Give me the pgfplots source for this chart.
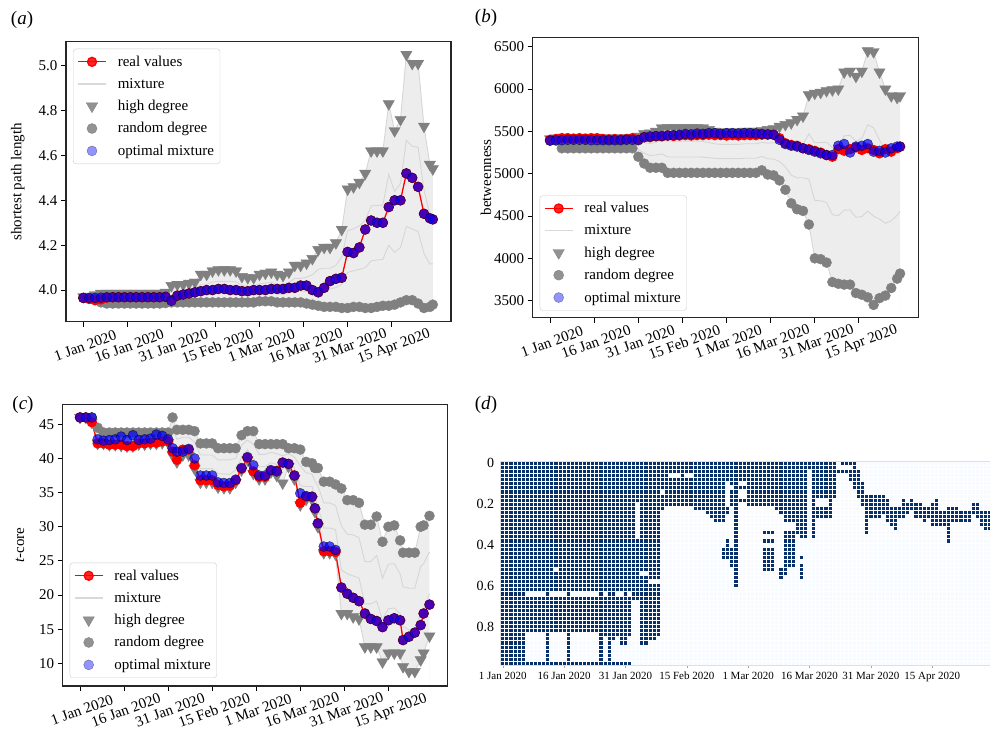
\documentclass[border=0pt]{standalone}
\usepackage{fontspec}
\setmainfont{Liberation Serif}
\usepackage{pgfplots}
\usepackage{pgfplotstable}
\pgfplotsset{compat=1.18}

\definecolor{hmdark}{HTML}{08306B}
\definecolor{hmlight}{HTML}{F7FBFF}
\definecolor{mkgray}{HTML}{808080}
\newcommand\fs{\fontsize{15bp}{18bp}\selectfont}

% (a) shortest path length: day, real, optimal, high degree, random degree, two mixtures
\pgfplotstableread{
d r o h q m1 m2
0 3.965 3.965 3.970 3.965 3.966 3.968
2 3.960 3.965 3.972 3.962 3.965 3.968
4 3.955 3.965 3.978 3.955 3.962 3.970
6 3.958 3.966 3.985 3.945 3.957 3.971
8 3.966 3.968 3.985 3.940 3.954 3.969
10 3.968 3.968 3.985 3.940 3.954 3.969
12 3.968 3.968 3.985 3.940 3.954 3.969
14 3.968 3.968 3.985 3.940 3.954 3.969
16 3.968 3.968 3.985 3.940 3.954 3.969
18 3.968 3.968 3.985 3.940 3.954 3.969
20 3.968 3.968 3.985 3.940 3.954 3.969
22 3.968 3.968 3.985 3.940 3.954 3.969
24 3.968 3.968 3.985 3.940 3.954 3.969
26 3.968 3.968 3.985 3.940 3.954 3.969
28 3.970 3.970 3.990 3.942 3.956 3.972
30 3.955 3.952 4.020 3.945 3.967 3.994
32 3.975 3.975 4.025 3.945 3.969 3.997
34 3.980 3.980 4.025 3.945 3.969 3.997
36 3.985 3.985 4.030 3.945 3.971 4.000
38 3.990 3.990 4.035 3.945 3.972 4.004
40 3.995 3.995 4.070 3.945 3.983 4.026
42 4.000 4.000 4.070 3.945 3.983 4.026
44 4.000 4.000 4.085 3.945 3.987 4.036
46 4.005 4.005 4.090 3.945 3.989 4.039
48 4.005 4.005 4.090 3.945 3.989 4.039
50 4.000 4.000 4.090 3.945 3.989 4.039
52 4.000 4.000 4.085 3.945 3.987 4.036
54 3.995 3.995 4.060 3.945 3.980 4.020
56 3.995 3.995 4.055 3.945 3.978 4.017
58 4.000 4.000 4.055 3.945 3.978 4.017
60 4.000 4.000 4.070 3.950 3.986 4.028
62 4.000 4.000 4.075 3.950 3.988 4.031
64 4.005 4.005 4.080 3.950 3.989 4.035
66 4.005 4.005 4.070 3.945 3.983 4.026
68 4.005 4.005 4.065 3.945 3.981 4.023
70 4.010 4.010 4.080 3.945 3.986 4.033
72 4.010 4.010 4.110 3.945 3.995 4.052
74 4.020 4.020 4.110 3.945 3.995 4.052
76 4.020 4.020 4.120 3.940 3.994 4.057
78 4.000 4.000 4.140 3.935 3.997 4.068
80 3.990 3.990 4.180 3.930 4.005 4.093
82 4.010 4.010 4.190 3.925 4.005 4.097
84 4.040 4.040 4.190 3.925 4.005 4.097
86 4.050 4.050 4.210 3.925 4.011 4.110
88 4.055 4.055 4.270 3.920 4.025 4.148
90 4.170 4.170 4.450 3.920 4.079 4.265
92 4.165 4.165 4.460 3.925 4.086 4.273
94 4.190 4.190 4.480 3.925 4.092 4.286
96 4.270 4.270 4.520 3.920 4.100 4.310
98 4.310 4.310 4.620 3.920 4.130 4.375
100 4.300 4.300 4.620 3.925 4.134 4.377
102 4.300 4.300 4.620 3.930 4.137 4.379
104 4.370 4.370 4.830 3.930 4.200 4.515
106 4.400 4.400 4.710 3.935 4.168 4.439
108 4.400 4.400 4.760 3.945 4.190 4.475
110 4.520 4.520 5.050 3.955 4.284 4.667
112 4.500 4.500 5.010 3.955 4.272 4.641
114 4.460 4.460 5.010 3.940 4.261 4.636
116 4.340 4.340 4.730 3.920 4.163 4.447
118 4.320 4.320 4.560 3.925 4.116 4.338
119 4.315 4.315 4.540 3.935 4.117 4.328
}\tA

% (b) betweenness
\pgfplotstableread{
d r o h q m1 m2
0 5400 5390 5410 5390 5397 5404
2 5410 5395 5420 5390 5400 5411
4 5420 5395 5430 5300 5345 5391
6 5420 5400 5430 5300 5345 5391
8 5415 5400 5425 5300 5344 5388
10 5420 5400 5430 5300 5345 5391
12 5415 5400 5425 5300 5344 5388
14 5420 5395 5430 5300 5345 5391
16 5420 5395 5430 5300 5345 5391
18 5410 5395 5420 5300 5342 5384
20 5405 5395 5420 5300 5342 5384
22 5410 5395 5420 5300 5342 5384
24 5405 5395 5420 5300 5342 5384
26 5410 5400 5425 5300 5344 5388
28 5420 5400 5430 5300 5345 5391
30 5400 5395 5440 5200 5284 5368
32 5430 5430 5470 5120 5243 5365
34 5430 5440 5480 5070 5214 5357
36 5440 5445 5500 5070 5221 5371
38 5440 5445 5540 5070 5235 5399
40 5450 5450 5545 5010 5197 5385
42 5445 5455 5545 5010 5197 5385
44 5450 5460 5545 5010 5197 5385
46 5455 5470 5545 5010 5197 5385
48 5450 5465 5545 5010 5197 5385
50 5455 5475 5545 5010 5197 5385
52 5455 5470 5540 5010 5196 5381
54 5460 5480 5520 5010 5189 5367
56 5455 5480 5500 5010 5182 5353
58 5455 5470 5490 5010 5178 5346
60 5450 5480 5490 5010 5178 5346
62 5455 5480 5490 5010 5178 5346
64 5450 5475 5490 5010 5178 5346
66 5455 5480 5500 5010 5182 5353
68 5455 5480 5500 5010 5182 5353
70 5455 5475 5500 5010 5182 5353
72 5460 5470 5510 5040 5205 5369
74 5460 5465 5520 4990 5176 5361
76 5460 5460 5530 4980 5173 5365
78 5420 5400 5560 4920 5144 5368
80 5360 5350 5580 4810 5080 5349
82 5340 5330 5600 4650 4983 5315
84 5330 5320 5640 4580 4951 5322
86 5300 5300 5680 4560 4952 5344
88 5290 5280 5930 4400 4936 5471
90 5270 5260 5950 4000 4683 5365
92 5250 5240 5960 3990 4680 5369
94 5220 5220 5980 3950 4661 5371
96 5200 5220 5990 3720 4515 5309
98 5290 5330 6000 3700 4505 5310
100 5270 5350 6200 3690 4569 5447
102 5290 5250 6210 3690 4572 5454
104 5310 5320 6150 3590 4486 5382
106 5280 5330 6210 3570 4494 5418
108 5300 5350 6450 3540 4559 5577
110 5280 5260 6440 3450 4497 5543
112 5240 5270 6200 3530 4465 5399
114 5290 5250 6000 3560 4414 5268
116 5260 5300 5920 3650 4445 5239
118 5300 5320 5900 3760 4509 5258
119 5320 5320 5920 3820 4555 5290
}\tB

% (c) t-core
\pgfplotstableread{
d r o h q m1 m2
0 46 46 46 46 46 46
2 46 46 46 46 46 46
4 45.3 46 45.3 46 45.8 45.5
6 42.2 42.8 42.2 44.5 43.8 43.0
8 42.2 42.6 42.2 43.8 43.3 42.8
10 42.0 42.7 42.0 43.8 43.3 42.6
12 42.0 42.8 42.0 43.8 43.3 42.6
14 42.0 43.2 41.9 43.8 43.2 42.6
16 41.8 42.7 41.8 43.8 43.2 42.5
18 41.8 43.4 41.8 43.8 43.2 42.5
20 42.2 42.7 42.1 43.8 43.3 42.7
22 42.2 42.8 42.1 43.8 43.3 42.7
24 42.3 42.9 42.2 43.8 43.3 42.8
26 42.3 43.5 42.2 43.8 43.3 42.8
28 42.5 43.3 42.3 43.8 43.4 42.8
30 42.5 42.8 42.3 43.8 43.4 42.8
31.5 41.0 41.5 40.5 46.0 44.4 42.4
33 39.8 41.0 39.5 44.2 42.8 41.1
35 41.3 41.0 40.5 44.2 43.1 41.8
37 41.3 41.4 40.5 44.2 43.1 41.8
39 39.0 40.0 38.5 44.0 42.4 40.4
41 36.8 37.5 36.5 42.2 40.5 38.5
43 36.8 37.5 36.5 42.2 40.5 38.5
45 36.8 37.5 36.5 42.2 40.5 38.5
47 36.1 36.5 35.8 41.5 39.8 37.8
49 35.9 36.4 35.7 41.5 39.8 37.7
51 36.0 36.4 35.7 41.5 39.8 37.7
53 36.8 36.9 36.5 41.5 40.0 38.3
55 38.5 38.6 38.3 43.4 41.9 40.1
57 40.1 40.2 39.8 44.0 42.7 41.3
59 38.1 39.0 37.8 44.0 42.1 40.0
61 37.3 37.5 37.0 42.1 40.6 38.8
63 37.3 37.5 37.0 42.1 40.6 38.8
65 38.2 38.3 38.0 42.1 40.9 39.4
67 38.2 38.1 37.5 42.1 40.7 39.1
69 39.4 39.4 36.4 42.1 40.4 38.4
71 39.2 39.2 38.8 41.5 40.7 39.7
73 37.5 37.5 37.0 41.5 40.2 38.6
75 33.5 34.9 33.2 41.3 38.9 36.0
77 34.4 34.5 34.0 39.5 37.9 35.9
79 34.4 34.4 34.0 39.3 37.7 35.9
80 32.7 32.7 32.2 38.6 36.7 34.4
81 30.5 30.5 30.0 38.6 36.0 33.0
83 26.4 27.1 26.2 36.6 33.5 29.8
85 26.4 27.1 26.2 36.6 33.5 29.8
87 26.3 26.6 26.0 36.2 33.1 29.6
89 21.1 21.1 17.3 35.6 30.1 23.7
91 20.2 20.2 17.3 33.9 28.9 23.1
93 19.6 19.6 16.8 33.9 28.8 22.8
95 19.1 19.1 16.5 33.5 28.4 22.5
97 17.3 17.3 12.4 30.3 24.9 18.7
99 16.5 16.5 12.4 30.3 24.9 18.7
101 16.2 16.2 12.4 31.5 25.8 19.1
103 15.3 15.3 10.2 27.8 22.5 16.4
105 16.3 16.3 11.5 30.0 24.5 18.0
107 16.6 16.6 11.5 30.2 24.6 18.1
109 16.3 16.3 11.5 28.0 23.1 17.3
110 13.4 13.4 9.5 26.2 21.2 15.4
112 13.9 13.9 8.8 26.2 21.0 14.9
114 14.5 14.5 8.8 26.2 21.0 14.9
116 15.6 15.6 10.5 30.0 24.2 17.3
117 17.3 17.3 11.5 30.2 24.6 18.0
119 18.6 18.6 14.0 31.6 26.3 20.2
}\tC

% (d) selected cells: day column, first row, last row (rows of 0.02)
\pgfplotstableread{
c a b
0 0 49
1 0 49
2 0 49
3 0 49
4 0 49
5 0 49
6 0 31
6 33 41
6 49 49
7 0 31
7 33 41
7 49 49
8 0 31
8 33 41
8 49 49
9 0 31
9 33 41
9 49 49
10 0 31
10 33 41
10 49 49
11 0 49
12 0 31
12 33 41
12 49 49
13 0 25
13 27 31
13 33 41
13 49 49
14 0 31
14 33 41
14 49 49
15 0 31
15 33 41
15 49 49
16 0 49
17 0 31
17 33 41
17 49 49
18 0 31
18 33 41
18 49 49
19 0 31
19 33 41
19 49 49
20 0 31
20 33 41
20 49 49
21 0 31
21 33 41
21 49 49
22 0 31
22 33 41
22 49 49
23 0 31
23 33 41
23 49 49
24 0 49
25 0 31
25 33 42
25 49 49
26 0 49
27 0 43
27 49 49
28 0 31
28 33 42
28 49 49
29 0 31
29 33 44
29 49 49
30 0 44
30 49 49
31 0 31
31 33 42
31 49 49
32 0 33
33 0 9
33 19 33
34 0 26
34 28 44
35 0 26
35 28 44
36 0 28
36 30 43
37 0 28
37 30 43
38 0 28
38 30 42
39 0 6
39 8 11
40 0 10
41 0 2
41 4 10
42 0 2
42 4 10
43 0 2
43 4 10
44 0 10
45 0 2
45 4 10
46 0 2
46 4 10
47 0 11
48 0 11
49 0 11
50 0 12
51 0 13
52 0 14
53 0 14
54 0 14
54 21 23
55 0 4
55 11 12
55 19 23
56 0 5
56 7 10
56 21 25
57 0 30
58 0 4
58 6 6
58 9 9
59 0 4
59 6 6
59 9 9
60 0 10
61 0 10
62 0 10
63 0 10
64 0 10
64 17 17
64 19 19
64 21 26
65 0 10
65 17 17
65 19 19
65 21 26
66 0 10
66 17 17
66 19 19
66 21 26
67 0 11
68 0 12
68 26 28
69 0 14
69 17 27
70 0 14
70 17 25
71 0 14
71 17 25
72 0 17
73 0 18
73 23 23
73 25 28
74 0 18
75 0 1
76 0 18
77 0 8
77 11 13
78 0 8
78 11 13
79 0 8
79 11 13
80 0 13
81 0 8
82 2 2
83 0 0
83 2 2
84 0 0
84 2 2
85 0 0
85 2 4
86 0 6
87 2 8
88 5 10
89 8 17
90 8 13
91 8 13
92 8 13
93 8 12
94 9 14
95 11 15
96 11 16
97 11 13
98 9 13
99 10 12
100 9 11
101 10 13
102 10 13
103 11 14
104 11 13
105 10 15
106 9 15
107 12 15
108 12 15
109 11 19
110 11 14
111 11 14
112 12 14
113 12 14
114 12 14
115 10 12
116 10 13
117 12 15
118 12 16
119 12 16
}\tD

\pgfplotsset{
  panel/.style={
    scale only axis, anchor=south west, axis on top,
    xmin=-5.9, xmax=125.2,
    xtick={0,15,30,45,60,75,90,105},
    xticklabels={1 Jan 2020,16 Jan 2020,31 Jan 2020,15 Feb 2020,1 Mar 2020,16 Mar 2020,31 Mar 2020,15 Apr 2020},
    tick align=outside, tick pos=left,
    major tick length=5bp,
    every tick/.style={black, line width=0.9bp},
    axis line style={black!85, line width=1.1bp},
    /pgf/number format/assume math mode=true,
    tick label style={font=\fs},
    xticklabel style={xshift=-1bp, yshift=-11bp, rotate=20, anchor=north},
    label style={font=\fs},
    legend cell align=left,
    legend style={font=\fs, draw=black!20, rounded corners=3bp, fill=white,
      fill opacity=0.85, text opacity=1, inner xsep=4bp, inner ysep=5bp,
      row sep=6.5bp,
      /tikz/every odd column/.append style={column sep=9bp}},
    legend image code/.code={\draw[mark repeat=2,mark phase=2,##1]
      plot coordinates {(0bp,0bp) (14bp,0bp) (28bp,0bp)};},
  },
  realst/.style={red, line width=1.3bp, mark=*, mark size=4.5bp, mark options={solid, fill=red, draw=red}},
  mixst/.style={black!15, line width=1.6bp},
  mixline/.style={black!16, line width=0.9bp},
  highst/.style={only marks, mark=triangle*, mark size=6.5bp, mark options={rotate=180, draw=mkgray, fill=mkgray}},
  randst/.style={only marks, mark=*, mark size=5bp, mark options={draw=mkgray, fill=mkgray}},
  optst/.style={only marks, mark=*, mark size=5bp, mark options={draw=none, fill=blue, opacity=0.7}},
  optleg/.style={only marks, mark=*, mark size=5bp, mark options={draw=none, fill=blue, opacity=0.42}},
}

\newcommand\legendset{%
  \addlegendimage{realst}\addlegendentry{real values}
  \addlegendimage{mixst}\addlegendentry{mixture}
  \addlegendimage{highst}\addlegendentry{high degree}
  \addlegendimage{randst}\addlegendentry{random degree}
  \addlegendimage{optleg}\addlegendentry{optimal mixture}}

% #1 table, #2 upper edge column of the mixture band, #3 lower edge column
\newcommand\drawpanel[3]{%
  \addplot[fill=black!7, draw=none, forget plot] table[x=d, y=#2]{#1} \closedcycle;
  \addplot[fill=white, draw=none, forget plot] table[x=d, y=#3]{#1} \closedcycle;
  \addplot[mixline, forget plot] table[x=d, y=h]{#1};
  \addplot[mixline, forget plot] table[x=d, y=m2]{#1};
  \addplot[mixline, forget plot] table[x=d, y=m1]{#1};
  \addplot[mixline, forget plot] table[x=d, y=q]{#1};
  \addplot[highst, forget plot] table[x=d, y=h]{#1};
  \addplot[randst, forget plot] table[x=d, y=q]{#1};
  \addplot[realst, forget plot] table[x=d, y=r]{#1};
  \addplot[optst, forget plot] table[x=d, y=o]{#1};}

\begin{document}
\begin{tikzpicture}
\useasboundingbox (0bp,0bp) rectangle (990bp,736bp);

% (a)
\begin{axis}[panel, at={(66bp,414.3bp)}, width=385bp, height=280bp,
  ymin=3.859, ymax=5.107, ytick={4.0,4.2,4.4,4.6,4.8,5.0},
  yticklabel style={/pgf/number format/.cd, fixed, fixed zerofill, precision=1},
  ylabel={shortest path length},
  ylabel style={at={(axis description cs:-0.125,0.5)}, anchor=center},
  legend style={at={(0,1)}, anchor=north west, xshift=7bp, yshift=-7bp}]
\legendset
\drawpanel{\tA}{h}{q}
\end{axis}

% (b)
\begin{axis}[panel, at={(532.7bp,418.3bp)}, width=385.6bp, height=280.4bp,
  ymin=3299, ymax=6611, ytick={3500,4000,4500,5000,5500,6000,6500},
  yticklabel style={/pgf/number format/.cd, 1000 sep={}},
  ylabel={betweenness},
  ylabel style={at={(axis description cs:-0.121,0.5)}, anchor=center},
  legend style={at={(0,0)}, anchor=south west, xshift=7bp, yshift=7bp}]
\legendset
\drawpanel{\tB}{h}{q}
\end{axis}

% (c)
\begin{axis}[panel, at={(62.7bp,50bp)}, width=385bp, height=281.7bp,
  ymin=6.68, ymax=47.93, ytick={10,15,20,25,30,35,40,45},
  ylabel={\textit{t}-core},
  ylabel style={at={(axis description cs:-0.111,0.5)}, anchor=center},
  legend style={at={(0,0)}, anchor=south west, xshift=7bp, yshift=8bp}]
\legendset
\drawpanel{\tC}{q}{h}
\end{axis}

% (d)
\begin{axis}[at={(500.7bp,70.7bp)}, anchor=south west, scale only axis,
  width=489.2bp, height=204bp,
  xmin=-0.5, xmax=119.1, ymin=-0.01, ymax=0.99, y dir=reverse,
  axis background/.style={fill=hmlight},
  axis on top,
  axis line style={black!12, line width=0.6bp},
  xtick={0,15,30,45,60,75,90,105},
  xticklabels={1 Jan 2020,16 Jan 2020,31 Jan 2020,15 Feb 2020,1 Mar 2020,16 Mar 2020,31 Mar 2020,15 Apr 2020},
  ytick={0,0.2,0.4,0.6,0.8},
  tick align=outside, tick pos=left,
  major tick length=3bp,
  xtick style={black!35, line width=0.5bp},
  ytick style={draw=none},
  minor xtick={-0.5,0.5,...,119.5},
  minor ytick={-0.01,0.01,...,0.99},
  minor tick length=0bp,
  xminorgrids, yminorgrids,
  minor grid style={white, line width=0.8bp},
  /pgf/number format/assume math mode=true,
  xticklabel style={font=\fontsize{11bp}{13bp}\selectfont},
  yticklabel style={font=\fontsize{14bp}{16bp}\selectfont},
]
\addplot[draw=none, mark=none,
  error bars/.cd, y dir=plus, y explicit, error mark=none,
  error bar style={line width=4.1bp, draw=hmdark}]
  table[x=c, y expr=\thisrow{a}*0.02-0.01, y error expr=(\thisrow{b}-\thisrow{a}+1)*0.02]{\tD};
\end{axis}

\node[font=\fontsize{19bp}{22bp}\selectfont] at (22bp,716bp) {(\textit{a})};
\node[font=\fontsize{19bp}{22bp}\selectfont] at (486bp,718bp) {(\textit{b})};
\node[font=\fontsize{19bp}{22bp}\selectfont] at (23bp,331bp) {(\textit{c})};
\node[font=\fontsize{19bp}{22bp}\selectfont] at (486bp,331bp) {(\textit{d})};
\end{tikzpicture}
\end{document}
